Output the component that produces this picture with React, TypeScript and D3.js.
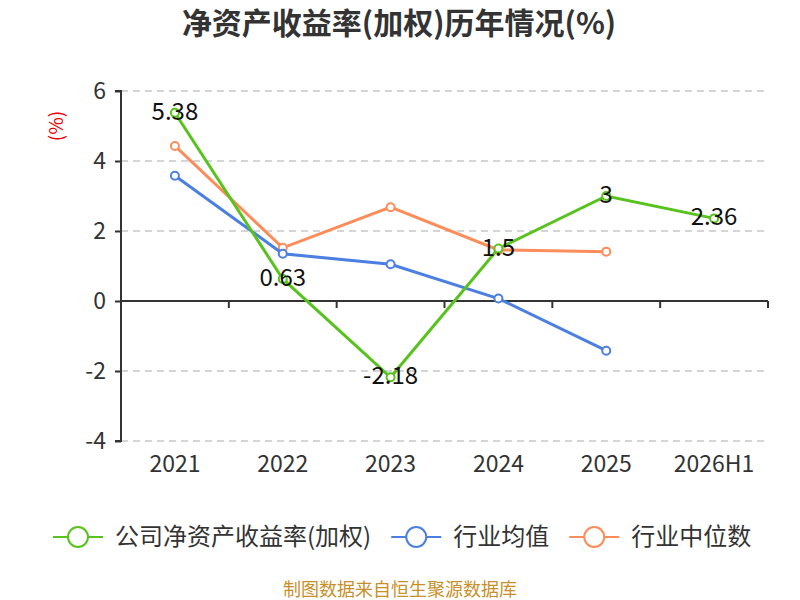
import { useEffect, useRef } from 'react';
import * as d3 from 'd3';

const years = ['2021', '2022', '2023', '2024', '2025', '2026H1'];
const companyRoe = [5.38, 0.63, -2.18, 1.5, 3, 2.36];
const industryAvg = [3.58, 1.35, 1.05, 0.07, -1.42, null];
const industryMedian = [4.43, 1.52, 2.68, 1.46, 1.41, null];
const yTicks = [-4, -2, 0, 2, 4, 6];

const SERIES = [
  { name: '公司净资产收益率(加权)', values: companyRoe, color: '#58c21e', labels: true },
  { name: '行业均值', values: industryAvg, color: '#4b7fe2', labels: false },
  { name: '行业中位数', values: industryMedian, color: '#fd8c5b', labels: false },
];

const W = 800;
const H = 600;
const FONT = '"Noto Sans CJK SC", "Noto Sans", sans-serif';
const M = { left: 121, right: 32, top: 91, bottom: 160 };

export default function App() {
  const svgRef = useRef<SVGSVGElement>(null);

  useEffect(() => {
    if (!svgRef.current) return;
    const svg = d3.select(svgRef.current);
    svg.selectAll('*').remove();

    const x = d3.scaleBand<string>().domain(years).range([M.left, W - M.right]);
    const y = d3.scaleLinear().domain([-4, 6]).range([H - M.bottom + 1, M.top]);

    // ── Title ─────────────────────────────────────────
    svg.append('text')
      .attr('x', W / 2 - 1).attr('y', 34)
      .attr('text-anchor', 'middle')
      .attr('font-size', 30).attr('font-weight', 700)
      .attr('fill', '#333')
      .text('净资产收益率(加权)历年情况(%)');

    // unit label
    svg.append('text')
      .attr('transform', `translate(58, ${126}) rotate(-90)`)
      .attr('text-anchor', 'middle').attr('dominant-baseline', 'middle')
      .attr('font-size', 19).attr('fill', '#e00')
      .text('(%)');

    // ── Grid ──────────────────────────────────────────
    yTicks.filter(t => t !== 0).forEach(t => {
      svg.append('line')
        .attr('x1', M.left).attr('x2', W - M.right)
        .attr('y1', y(t)).attr('y2', y(t))
        .attr('stroke', '#c8c8c8').attr('stroke-width', 1.5)
        .attr('stroke-dasharray', '7,5');
    });

    // ── Y axis ────────────────────────────────────────
    const yAxis = d3.axisLeft(y).tickValues(yTicks).tickSize(6).tickPadding(9).tickFormat(d => String(d));
    svg.append('g')
      .attr('transform', `translate(${M.left}, 0)`)
      .call(yAxis)
      .call(g => {
        g.select('.domain').attr('stroke', '#333').attr('stroke-width', 2).attr('d', `M-6,${y(6)}H0V${y(-4)}H-6`);
        g.selectAll('.tick line').attr('stroke', '#333').attr('stroke-width', 2);
        g.selectAll('text').attr('fill', '#333').attr('font-size', 23).attr('font-family', FONT);
      });

    // ── X axis (at zero) ──────────────────────────────
    const xAxis = d3.axisBottom(x).tickSize(0).tickPadding(0);
    const xg = svg.append('g').attr('transform', `translate(0, ${y(0)})`);
    xg.append('line')
      .attr('x1', M.left).attr('x2', W - M.right)
      .attr('stroke', '#333').attr('stroke-width', 2);
    const edges = [...years.map(v => x(v)!), x.range()[1]];
    edges.slice(1).forEach(e => {
      xg.append('line').attr('x1', e).attr('x2', e).attr('y1', 0).attr('y2', 7)
        .attr('stroke', '#333').attr('stroke-width', 2);
    });
    svg.append('g')
      .attr('transform', `translate(0, ${H - M.bottom + 1})`)
      .call(xAxis)
      .call(g => {
        g.select('.domain').remove();
        g.selectAll('text').attr('fill', '#333').attr('font-size', 23).attr('font-family', FONT).attr('dy', '1.35em');
      });

    // ── Lines ─────────────────────────────────────────
    const cx = (i: number) => x(years[i])! + x.bandwidth() / 2;
    SERIES.slice().reverse().forEach(s => {
      const pts = s.values.map((v, i) => ({ v, i })).filter(p => p.v !== null) as { v: number; i: number }[];
      const line = d3.line<{ v: number; i: number }>().x(p => cx(p.i)).y(p => y(p.v));
      svg.append('path')
        .attr('d', line(pts))
        .attr('fill', 'none').attr('stroke', s.color).attr('stroke-width', 3);
      pts.forEach(p => {
        svg.append('circle')
          .attr('cx', cx(p.i)).attr('cy', y(p.v)).attr('r', 4)
          .attr('fill', '#fff').attr('stroke', s.color).attr('stroke-width', 2);
      });
    });

    // data labels
    SERIES.filter(s => s.labels).forEach(s => {
      s.values.forEach((v, i) => {
        if (v === null) return;
        svg.append('text')
          .attr('x', cx(i)).attr('y', y(v) + 7)
          .attr('text-anchor', 'middle')
          .attr('font-size', 24).attr('fill', '#111')
          .text(String(v));
      });
    });

    // ── Legend ────────────────────────────────────────
    let lx = 53;
    SERIES.forEach(s => {
      const g = svg.append('g').attr('transform', `translate(${lx}, 537)`);
      g.append('line').attr('x1', 0).attr('x2', 50).attr('stroke', s.color).attr('stroke-width', 2);
      g.append('circle').attr('cx', 25).attr('r', 10).attr('fill', '#fff').attr('stroke', s.color).attr('stroke-width', 2);
      const t = g.append('text').attr('x', 62).attr('y', 8)
        .attr('font-size', 24).attr('fill', '#333')
        .text(s.name);
      const tw = (t.node() as SVGTextElement).getComputedTextLength();
      lx += 62 + tw + 20;
    });

    // footer
    svg.append('text')
      .attr('x', W / 2).attr('y', 596)
      .attr('text-anchor', 'middle')
      .attr('font-size', 18).attr('fill', '#c8902a')
      .text('制图数据来自恒生聚源数据库');
  }, []);

  return (
    <svg ref={svgRef} width={W} height={H}
      style={{ display: 'block', position: 'absolute', left: 0, top: 0, background: '#fff', fontFamily: FONT }} />
  );
}
